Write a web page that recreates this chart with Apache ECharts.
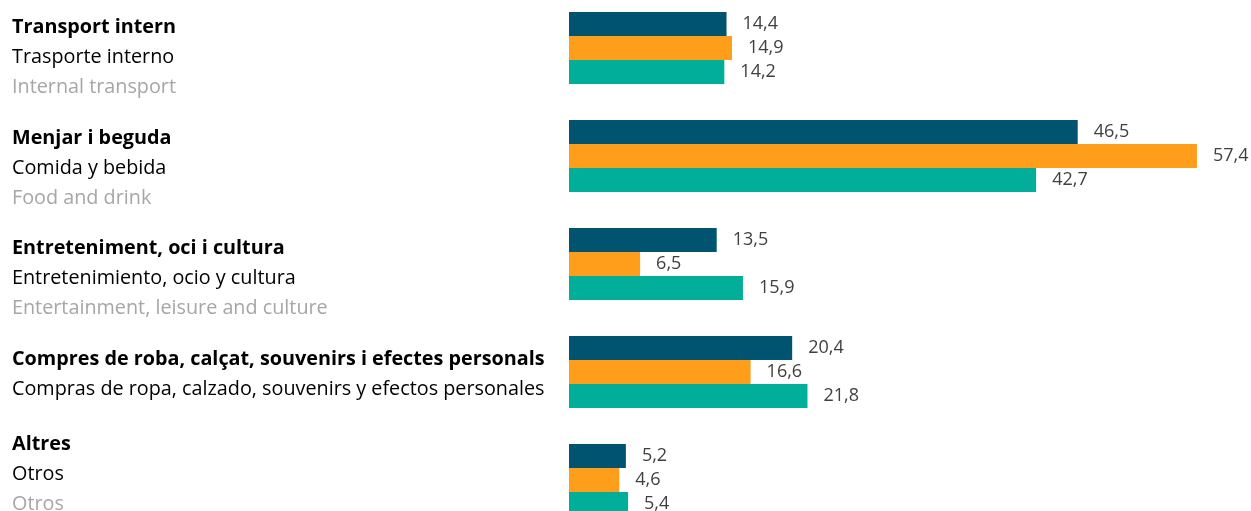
<!DOCTYPE html>
<html><head><meta charset="utf-8">
<script src="https://cdn.jsdelivr.net/npm/echarts@6/dist/echarts.min.js"></script>
<style>html,body{margin:0;padding:0;background:#fff}#c{width:1251px;height:511px}</style>
</head><body><div id="c"></div>
<script>
const catCA = ["Transport intern","Menjar i beguda","Entreteniment, oci i cultura","Compres de roba, calçat, souvenirs i efectes personals","Altres"];
const catES = ["Trasporte interno","Comida y bebida","Entretenimiento, ocio y cultura","Compras de ropa, calzado, souvenirs y efectos personales","Otros"];
const catEN = ["Internal transport","Food and drink","Entertainment, leisure and culture","","Otros"];
const serieA = [14.4, 46.5, 13.5, 20.4, 5.2];
const serieB = [14.9, 57.4, 6.5, 16.6, 4.6];
const serieC = [14.2, 42.7, 15.9, 21.8, 5.4];
const colors = ["#00546F", "#FF9E1B", "#00AE99"];
const pads = [[19,0,0,0],[25,0,0,0],[29,0,0,0],[5,0,0,0],[0,0,12,0]];

const FONT = "Open Sans";
const LS = 19.8;
const yData = catCA.map((c, i) => ({ value: c, textStyle: { padding: pads[i], align: 'left', verticalAlign: 'middle' } }));
const fmt = (v, i) => {
  let s = '{a|' + catCA[i] + '}\n{b|' + catES[i] + '}';
  if (catEN[i]) s += '\n{c|' + catEN[i] + '}';
  return s;
};
const mk = (name, data, color) => ({
  type: 'bar', name, data,
  itemStyle: { color },
  barCategoryGap: '33.33%', barGap: '0%',
  label: { show: true, position: 'right', distance: 16, color: '#404040',
    fontFamily: FONT, fontSize: 18,
    formatter: p => p.value.toFixed(1).replace('.', ',') }
});
const chart = echarts.init(document.getElementById('c'));
chart.setOption({
  animation: false,
  grid: { left: 569, top: -6, width: 656.4, height: 540, containLabel: false, outerBoundsMode: 'none' },
  xAxis: { type: 'value', min: 0, max: 60, show: false },
  yAxis: {
    type: 'category', inverse: true, data: yData,
    axisLine: { show: false }, axisTick: { show: false }, splitLine: { show: false },
    axisLabel: {
      interval: 0, align: 'left', margin: 557, verticalAlign: 'middle',
      formatter: fmt,
      rich: {
        a: { fontFamily: FONT, fontSize: LS, fontWeight: 'bold', color: '#000', lineHeight: 30 },
        b: { fontFamily: FONT, fontSize: LS, color: '#000', lineHeight: 30 },
        c: { fontFamily: FONT, fontSize: LS, color: '#A6A6A6', lineHeight: 30 }
      }
    }
  },
  series: [mk('A', serieA, colors[0]), mk('B', serieB, colors[1]), mk('C', serieC, colors[2])]
});
</script></body></html>
